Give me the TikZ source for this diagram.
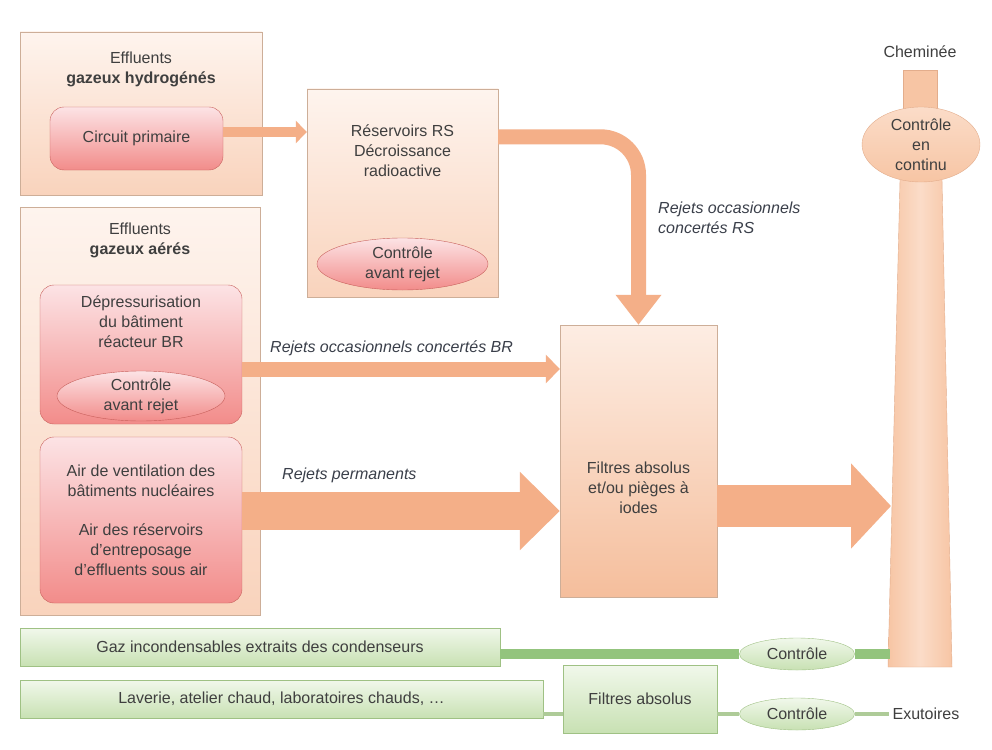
\documentclass[tikz,border=0pt]{standalone}
\usepackage{fontspec}
\setmainfont{Liberation Sans}
\usetikzlibrary{positioning,shapes.geometric,arrows.meta}

\definecolor{txt}{HTML}{3F3F3F}
\definecolor{lbltxt}{HTML}{3A3F4A}
\definecolor{boxline}{HTML}{CDAE98}
\definecolor{peachtop}{HTML}{FEF4EE}
\definecolor{peachbot}{HTML}{F9D3BC}
\definecolor{filttop}{HTML}{FDEDE3}
\definecolor{filtbot}{HTML}{F5BE9C}
\definecolor{redline}{HTML}{C8605C}
\definecolor{pinktop}{HTML}{FCE3E5}
\definecolor{pinkbot}{HTML}{F28C8A}
\definecolor{flow}{HTML}{F4AF88}
\definecolor{chim}{HTML}{F7C5A4}
\definecolor{chimlight}{HTML}{FBDCC8}
\definecolor{chimline}{HTML}{E3AD8C}
\definecolor{greentop}{HTML}{F1F8EB}
\definecolor{greenbot}{HTML}{C8E1B3}
\definecolor{greenline}{HTML}{9FC184}
\definecolor{gflow}{HTML}{93C47D}
\definecolor{gthin}{HTML}{AECB98}

\tikzset{
	outerbox/.style={draw=boxline, top color=peachtop, bottom color=peachbot, inner sep=0pt},
	filtbox/.style={draw=boxline, top color=filttop, bottom color=filtbot, inner sep=0pt},
	redbox/.style={draw=redline, rounded corners=14pt, top color=pinktop, bottom color=pinkbot, inner sep=0pt, align=center},
	redell/.style={ellipse, draw=redline, top color=pinktop, bottom color=pinkbot, inner sep=0pt, align=center},
	chimell/.style={ellipse, draw=chimline, top color=chimlight, bottom color=chim, inner sep=0pt, align=center},
	greenbar/.style={draw=greenline, top color=greentop, bottom color=greenbot, inner sep=0pt},
	greenell/.style={ellipse, draw=greenline, top color=greentop, bottom color=greenbot, inner sep=0pt},
	lbl/.style={font=\fontsize{16}{20}\selectfont\itshape, text=lbltxt, inner sep=0pt},
	gline/.style={draw=gflow, line width=10pt},
	gthinline/.style={draw=gthin, line width=4pt}
}

\begin{document}
\begin{tikzpicture}[x=1pt,y=-1pt, font=\fontsize{16}{20}\selectfont, text=txt]
	\useasboundingbox (0,0) rectangle (992,749);
	\fill[white](0,0)rectangle(992,749);

	\node[outerbox, minimum width=242pt, minimum height=163pt] (hyd) at (141,113.5) {};
	\node[below=20pt of hyd.north, align=center, inner sep=0pt] (hydT) {Effluents\\\textbf{gazeux hydrogénés}};
	\node[redbox, minimum width=173pt, minimum height=63pt] (prim) at (136.5,138.5) {Circuit primaire};

	\node[outerbox, minimum width=240pt, minimum height=408pt] (aer) at (140,411) {};
	\node[below=16pt of aer.north, align=center, inner sep=0pt] (aerT) {Effluents\\\textbf{gazeux aérés}};
	\node[redbox, minimum width=202pt, minimum height=139pt] (depr) at (141,354.5) {};
	\node[align=center, inner sep=0pt] (deprT) at ([yshift=-37pt]depr.north) {Dépressurisation\\du bâtiment\\réacteur BR};
	\node[redell, minimum width=168pt, minimum height=50pt] (deprC) at (141,396) {Contrôle\\avant rejet};
	\node[redbox, minimum width=202pt, minimum height=166pt] (air) at (141,520) {Air de ventilation des\\bâtiments nucléaires\\[19pt]Air des réservoirs\\d'entreposage\\d'effluents sous air};

	\node[outerbox, minimum width=191pt, minimum height=208pt] (res) at (402.5,193) {};
	\node[align=center, inner sep=0pt] (resT) at ([yshift=-62pt]res.north) {Réservoirs RS\\Décroissance\\radioactive};
	\node[redell, minimum width=171pt, minimum height=52pt] (resC) at (402.5,264) {Contrôle\\avant rejet};

	\node[filtbox, minimum width=157pt, minimum height=272pt] (filt) at (638.5,461) {};
	\node[align=center, inner sep=0pt] (filtT) at ([yshift=-27pt]filt.center) {Filtres absolus\\et/ou pièges à\\iodes};

	\draw[chimline, fill=chim](903,70)rectangle(937,112);
	\shade[left color=chim, right color=chim, middle color=chimlight](900,180)--(942,180)--(952,667)--(888,667)--cycle;
	\draw[chimline](900,180)--(888,667)--(952,667)--(942,180);
	\node[chimell, minimum width=118pt, minimum height=75pt] (cont) at (921,144.5) {Contrôle\\en\\continu};
	\node (chem) at (920,52) {Cheminée};
	\coordinate (chimL) at (891,506);
	\coordinate (chimG) at (890,654);

	\coordinate (a1) at ([yshift=6.5pt]prim.east);
	\draw[flow, line width=10pt, -{Triangle[width=22pt,length=11pt]}] (a1) -- (res.west |- a1);
	\coordinate (a2) at ([yshift=-48pt]res.north east);
	\draw[flow, line width=15pt, rounded corners=38pt, -{Triangle[width=44pt,length=30pt]}] (a2) -| (filt.north);
	\coordinate (a3) at ([yshift=-14.5pt]depr.east);
	\draw[flow, line width=15pt, -{Triangle[width=28pt,length=14pt]}] (a3) -- (filt.west |- a3);
	\coordinate (a4) at ([yshift=9pt]air.east);
	\draw[flow, line width=38pt, -{Triangle[width=76pt,length=40pt]}] (a4) -- (filt.west |- a4);
	\coordinate (a5) at ([yshift=-45pt]filt.east);
	\draw[flow, line width=42pt, -{Triangle[width=83pt,length=40pt]}] (a5) -- (chimL);

	\node[lbl, anchor=west] (lblBR) at (270,348) {Rejets occasionnels concertés BR};
	\node[lbl, anchor=west] (lblP) at (282,475) {Rejets permanents};
	\node[lbl, anchor=west, align=left] (lblRS) at (658,218) {Rejets occasionnels\\concertés RS};

	\node[greenbar, minimum width=480pt, minimum height=38pt] (gaz) at (260,647) {Gaz incondensables extraits des condenseurs};
	\node[greenell, minimum width=115pt, minimum height=32pt] (ctlA) at (797,654) {Contrôle};
	\draw[gline] (gaz.east |- ctlA) -- (ctlA.west);
	\draw[gline] (ctlA.east) -- (chimG);

	\node[greenbar, minimum width=523pt, minimum height=38pt] (lav) at (281.5,699) {Laverie, atelier chaud, laboratoires chauds, \dots};
	\node[greenbar, minimum width=154pt, minimum height=68pt] (fabs) at (640,699) {Filtres absolus};
	\node[greenell, minimum width=115pt, minimum height=32pt] (ctlB) at (797,714) {Contrôle};
	\node (exu) at (926,714) {Exutoires};
	\draw[gthinline] (lav.east |- ctlB) -- (fabs.west |- ctlB);
	\draw[gthinline] (fabs.east |- ctlB) -- (ctlB.west);
	\draw[gthinline] (ctlB.east) -- (exu.west);
\end{tikzpicture}
\end{document}
